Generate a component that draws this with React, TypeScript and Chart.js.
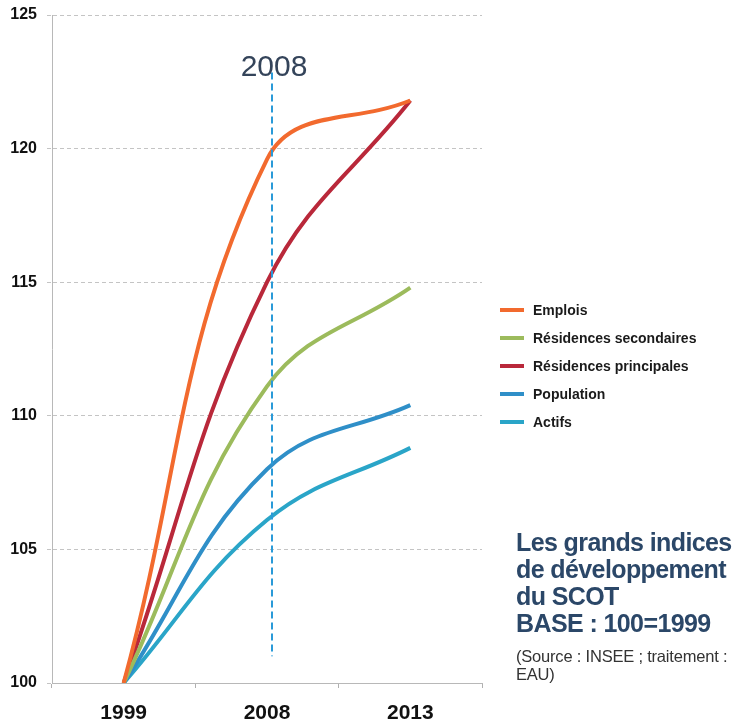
import React, { useEffect, useRef } from "react";
import { Chart, registerables } from "chart.js";

Chart.register(...registerables);

const years = ["1999", "2008", "2013"];
const emplois = [100, 119.6, 121.8];
const residencesSecondaires = [100, 111.1, 114.8];
const residencesPrincipales = [100, 115.0, 121.8];
const population = [100, 108.0, 110.4];
const actifs = [100, 106.1, 108.8];
const yTicks = [100, 105, 110, 115, 120, 125];
const markerYear = "2008";
const markerRange = [101, 122.85];

const FONT = "'Liberation Sans', Arial, Helvetica, sans-serif";

const markerPlugin = {
  id: "marker2008",
  afterDatasetsDraw(chart: any) {
    const { ctx, scales } = chart;
    const x = scales.x.getPixelForValue(years.indexOf(markerYear)) + 5;
    const yTop = scales.y.getPixelForValue(markerRange[1]);
    const yBot = scales.y.getPixelForValue(markerRange[0]);
    ctx.save();
    ctx.strokeStyle = "#2a9ad8";
    ctx.lineWidth = 2;
    ctx.setLineDash([7, 4]);
    ctx.beginPath();
    ctx.moveTo(x, yTop);
    ctx.lineTo(x, yBot);
    ctx.stroke();
    ctx.setLineDash([]);
    ctx.fillStyle = "#34445a";
    ctx.font = `30px ${FONT}`;
    ctx.textAlign = "center";
    ctx.textBaseline = "alphabetic";
    ctx.fillText(markerYear, x + 2, yTop + 4);
    ctx.restore();
  },
};

const legendPlugin = {
  id: "sideLegend",
  afterDraw(chart: any) {
    const { ctx } = chart;
    const x0 = chart.chartArea.right + 18;
    const y0 = 310;
    const step = 28;
    ctx.save();
    chart.data.datasets.forEach((ds: any, i: number) => {
      const y = y0 + i * step;
      ctx.strokeStyle = ds.borderColor;
      ctx.lineWidth = 4;
      ctx.beginPath();
      ctx.moveTo(x0, y);
      ctx.lineTo(x0 + 24, y);
      ctx.stroke();
      ctx.fillStyle = "#1a1a1a";
      ctx.font = `bold 14px ${FONT}`;
      ctx.textAlign = "left";
      ctx.textBaseline = "middle";
      ctx.fillText(ds.label, x0 + 33, y + 1);
    });
    ctx.restore();
  },
};

export default function App() {
  const ref = useRef<HTMLCanvasElement>(null);
  useEffect(() => {
    if (!ref.current) return;
    const mk = (label: string, data: number[], color: string) => ({
      label,
      data,
      borderColor: color,
      backgroundColor: color,
      borderWidth: 4,
      pointRadius: 0,
      tension: 0.4,
      fill: false,
    });
    const chart = new Chart(ref.current, {
      type: "line",
      data: {
        labels: years,
        datasets: [
          mk("Emplois", emplois, "#f26a2e"),
          mk("Résidences secondaires", residencesSecondaires, "#9cbb5c"),
          mk("Résidences principales", residencesPrincipales, "#b9283a"),
          mk("Population", population, "#2f8fc8"),
          mk("Actifs", actifs, "#2aa5c8"),
        ],
      },
      options: {
        animation: false,
        responsive: false,
        maintainAspectRatio: false,
        layout: { padding: { left: 0, top: 15, right: 260, bottom: 0 } },
        plugins: {
          tooltip: { enabled: false },
          legend: { display: false },
        },
        scales: {
          x: {
            type: "category",
            offset: true,
            afterFit: (axis: any) => {
              axis.height = 40;
            },
            grid: {
              offset: true,
              drawOnChartArea: false,
              drawTicks: true,
              tickLength: 5,
              color: "#b0b0b0",
            },
            border: { display: true, color: "#b8b8b8", dash: [4, 3] },
            ticks: {
              color: "#111",
              padding: 13,
              font: { family: FONT, size: 21, weight: "bold" },
            },
          },
          y: {
            min: yTicks[0],
            max: yTicks[yTicks.length - 1],
            afterFit: (axis: any) => {
              axis.width = 52;
              axis.paddingTop = 0;
              axis.paddingBottom = 0;
            },
            afterBuildTicks: (axis: any) => {
              axis.ticks = yTicks.map((v) => ({ value: v }));
            },
            grid: {
              color: "#c4c4c4",
              drawTicks: true,
              tickLength: 5,
              tickBorderDash: [4, 3],
            },
            border: { display: true, color: "#b8b8b8", dash: [4, 3] },
            ticks: {
              color: "#111",
              padding: 10,
              font: { family: FONT, size: 16, weight: "bold" },
            },
          },
        },
      },
      plugins: [markerPlugin, legendPlugin],
    } as any);
    return () => chart.destroy();
  }, []);

  return (
    <div style={{ position: "fixed", left: 0, top: 0, width: 742, height: 723, background: "#fff" }}>
      <canvas ref={ref} width={742} height={723} style={{ display: "block" }} />
      <div
        style={{
          position: "absolute",
          left: 516,
          top: 529,
          fontFamily: FONT,
          fontWeight: "bold",
          fontSize: 25,
          letterSpacing: "-0.6px",
          lineHeight: "27px",
          color: "#2b4768",
          whiteSpace: "nowrap",
        }}
      >
        Les grands indices
        <br />
        de développement
        <br />
        du SCOT
        <br />
        BASE : 100=1999
        <div
          style={{
            fontWeight: "normal",
            fontSize: 16.5,
            letterSpacing: "-0.2px",
            lineHeight: "18px",
            color: "#333",
            marginTop: 10,
          }}
        >
          (Source : INSEE ; traitement :
          <br />
          EAU)
        </div>
      </div>
    </div>
  );
}
